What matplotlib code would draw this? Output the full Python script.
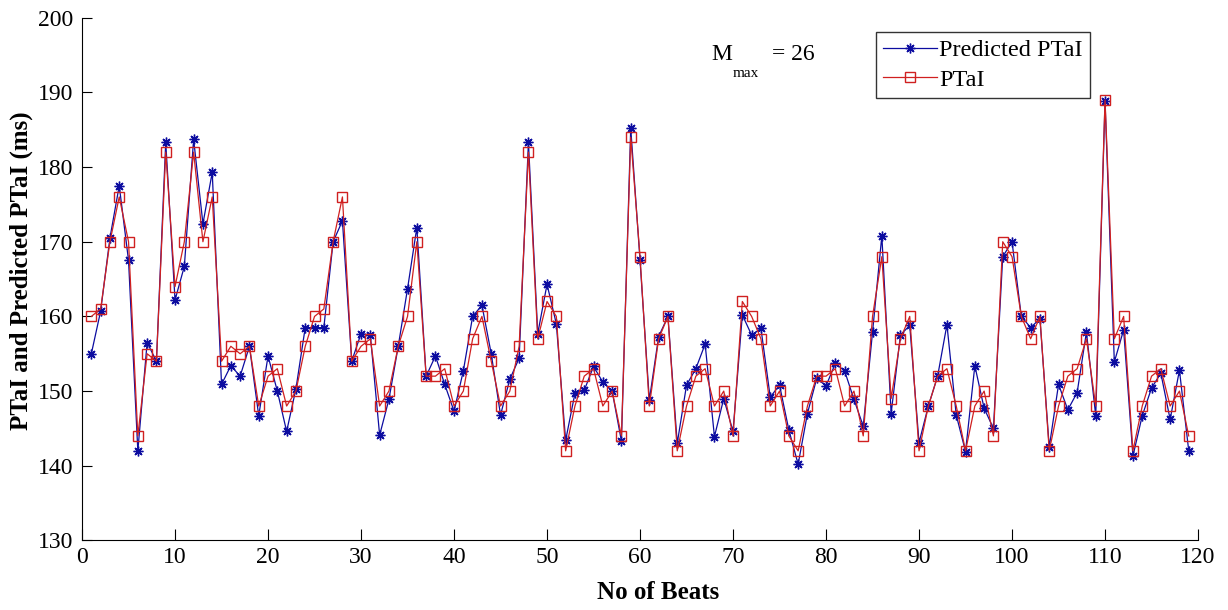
import matplotlib
matplotlib.use('Agg')
import matplotlib.pyplot as plt

plt.rcParams['font.family'] = ['Liberation Serif', 'DejaVu Serif']

beats = list(range(1, 120))

ptai = [160, 161, 170, 176, 170, 144, 155, 154, 182, 164,
        170, 182, 170, 176, 154, 156, 155, 156, 148, 152,
        153, 148, 150, 156, 160, 161, 170, 176, 154, 156,
        157, 148, 150, 156, 160, 170, 152, 152, 153, 148,
        150, 157, 160, 154, 148, 150, 156, 182, 157, 162,
        160, 142, 148, 152, 153, 148, 150, 144, 184, 168,
        148, 157, 160, 142, 148, 152, 153, 148, 150, 144,
        162, 160, 157, 148, 150, 144, 142, 148, 152, 152,
        153, 148, 150, 144, 160, 168, 149, 157, 160, 142,
        148, 152, 153, 148, 142, 148, 150, 144, 170, 168,
        160, 157, 160, 142, 148, 152, 153, 157, 148, 189,
        157, 160, 142, 148, 152, 153, 148, 150, 144]

predicted = [155.0, 160.7, 170.5, 177.5, 167.5, 142.0, 156.5, 154.0, 183.3, 162.2,
             166.7, 183.7, 172.4, 179.3, 150.9, 153.4, 152.0, 156.0, 146.7, 154.7,
             150.0, 144.6, 150.3, 158.5, 158.5, 158.5, 170.0, 172.8, 154.0, 157.7,
             157.5, 144.1, 148.9, 156.0, 163.7, 171.9, 152.0, 154.7, 150.9, 147.3,
             152.7, 160.0, 161.5, 155.0, 146.8, 151.6, 154.4, 183.3, 157.7, 164.3,
             159.0, 143.4, 149.7, 150.1, 153.3, 151.2, 150.0, 143.3, 185.2, 167.5,
             148.8, 157.3, 160.0, 143.0, 150.8, 153.0, 156.3, 143.9, 149.0, 144.6,
             160.2, 157.5, 158.4, 149.2, 150.8, 144.8, 140.2, 147.0, 151.7, 150.7,
             153.7, 152.7, 148.9, 145.3, 157.9, 170.8, 147.0, 157.5, 158.8, 143.1,
             148.0, 152.0, 158.9, 146.8, 141.9, 153.4, 147.7, 145.0, 168.0, 170.0,
             160.0, 158.5, 159.7, 142.5, 150.9, 147.5, 149.8, 157.9, 146.7, 188.8,
             153.9, 158.2, 141.3, 146.7, 150.4, 152.4, 146.2, 152.8, 142.0]

fig = plt.figure(figsize=(12.28, 6.10), dpi=100)
ax = fig.add_axes([0.0668, 0.114, 0.9088, 0.857])

ax.plot(beats, predicted, color='#0c0ca0', marker=(8, 2, 0), markersize=7,
        markeredgewidth=1.0, linewidth=0.9, label='Predicted PTaI')
ax.plot(beats, ptai, color='#d02020', marker='s', markersize=7,
        markerfacecolor='none', markeredgewidth=1.0, linewidth=0.9,
        label='PTaI')

ax.set_xlim(0, 120)
ax.set_ylim(130, 200)
ax.set_xticks(range(0, 121, 10))
ax.set_yticks(range(130, 201, 10))
ax.tick_params(axis='x', direction='in', length=8, pad=5, labelsize=17)
ax.tick_params(axis='y', direction='in', length=7, pad=6, labelsize=17)
ax.spines['top'].set_visible(False)
ax.spines['right'].set_visible(False)

ax.set_xlabel('No of Beats', fontsize=18, fontweight='bold')
ax.xaxis.set_label_coords(0.516, -0.0995)
ax.xaxis.label.set_va('center')
ax.set_ylabel('PTaI and Predicted PTaI (ms)', fontsize=18, fontweight='bold')
ax.yaxis.set_label_coords(-0.054, 0.517)
ax.yaxis.label.set_va('center')

# M_max annotation, subscript set below the M
ax.text(67.7, 194.35, 'M', fontsize=17, ha='left', va='baseline')
ax.text(70.0, 192.0, 'max', fontsize=11, ha='left', va='baseline')
ax.text(74.2, 194.35, '= 26', fontsize=17, ha='left', va='baseline')

leg = ax.legend(loc='upper left', bbox_to_anchor=(0.7115, 0.9727), fontsize=17.5,
                frameon=True, fancybox=False, edgecolor='black',
                handlelength=2.2, handletextpad=0.1, borderpad=0.3,
                labelspacing=0.3, borderaxespad=0)
leg.get_frame().set_linewidth(1.0)

fig.savefig('out.png', dpi=100)
